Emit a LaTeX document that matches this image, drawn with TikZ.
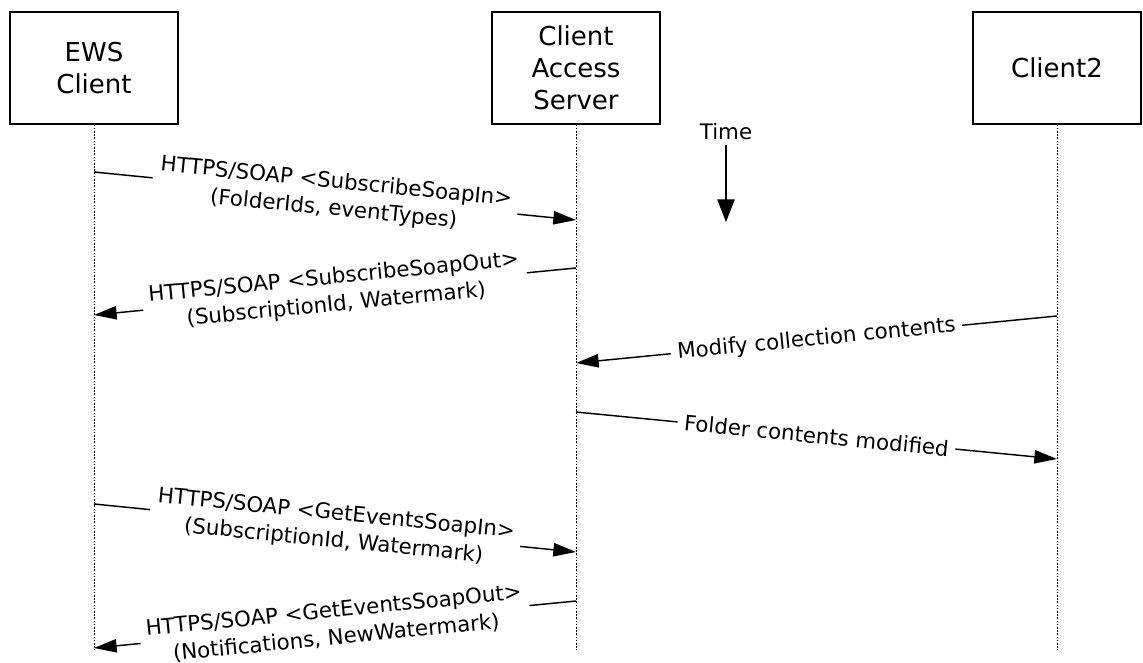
\documentclass[tikz,border=0pt]{standalone}
\usepackage{fontspec}
\setmainfont{DejaVu Sans}
\usetikzlibrary{arrows.meta}

\begin{document}
\begin{tikzpicture}[x=0.75pt, y=-0.75pt, font=\fontsize{16}{20.5}\selectfont,
    actor/.style={draw, line width=1pt, minimum width=126pt, minimum height=84pt,
      align=center, font=\fontsize{19.5}{24}\selectfont},
    lifeline/.style={line width=0.7pt, dash pattern=on 1.2pt off 1.2pt},
    msg/.style={line width=1.1pt, -{Triangle[length=17pt, width=10pt]}},
    msgtext/.style={midway, sloped, fill=white, align=center, inner xsep=5pt, inner ysep=0pt}]
  \useasboundingbox (0,0) rectangle (1143,662);
  % participants
  \node[actor] (ews) at (94,68) {EWS\\Client};
  \node[actor] (cas) at (576,68) {Client\\Access\\Server};
  \node[actor] (cltwo) at (1057,68) {Client2};
  % lifelines
  \coordinate (ewsend) at (94,650);
  \coordinate (casend) at (576,650);
  \coordinate (cltwoend) at (1057,650);
  \draw[lifeline] (ews.south) -- (ewsend);
  \draw[lifeline] (cas.south) -- (casend);
  \draw[lifeline] (cltwo.south) -- (cltwoend);
  % time
  \node (time) at (726,132) {Time};
  \coordinate (timeend) at (726,222);
  \draw[line width=1.1pt, -{Triangle[length=17pt, width=13pt]}] (time.south) -- (timeend);
  % messages
  \coordinate (ewsa) at (94,172);  \coordinate (casa) at (576,220);
  \coordinate (casb) at (576,268); \coordinate (ewsb) at (94,315);
  \coordinate (cltwoc) at (1057,316); \coordinate (casc) at (576,363);
  \coordinate (casd) at (576,412); \coordinate (cltwod) at (1057,459);
  \coordinate (ewse) at (94,504);  \coordinate (case) at (576,552);
  \coordinate (casf) at (576,601); \coordinate (ewsf) at (94,648);
  \draw[msg] (ewsa) -- node[msgtext] {HTTPS/SOAP <SubscribeSoapIn>\\(FolderIds, eventTypes)} (casa);
  \draw[msg] (casb) -- node[msgtext] {HTTPS/SOAP <SubscribeSoapOut>\\(SubscriptionId, Watermark)} (ewsb);
  \draw[msg] (cltwoc) -- node[msgtext] {Modify collection contents} (casc);
  \draw[msg] (casd) -- node[msgtext] {Folder contents modified} (cltwod);
  \draw[msg] (ewse) -- node[msgtext] {HTTPS/SOAP <GetEventsSoapIn>\\(SubscriptionId, Watermark)} (case);
  \draw[msg] (casf) -- node[msgtext] {HTTPS/SOAP <GetEventsSoapOut>\\(Notifications, NewWatermark)} (ewsf);
\end{tikzpicture}
\end{document}
